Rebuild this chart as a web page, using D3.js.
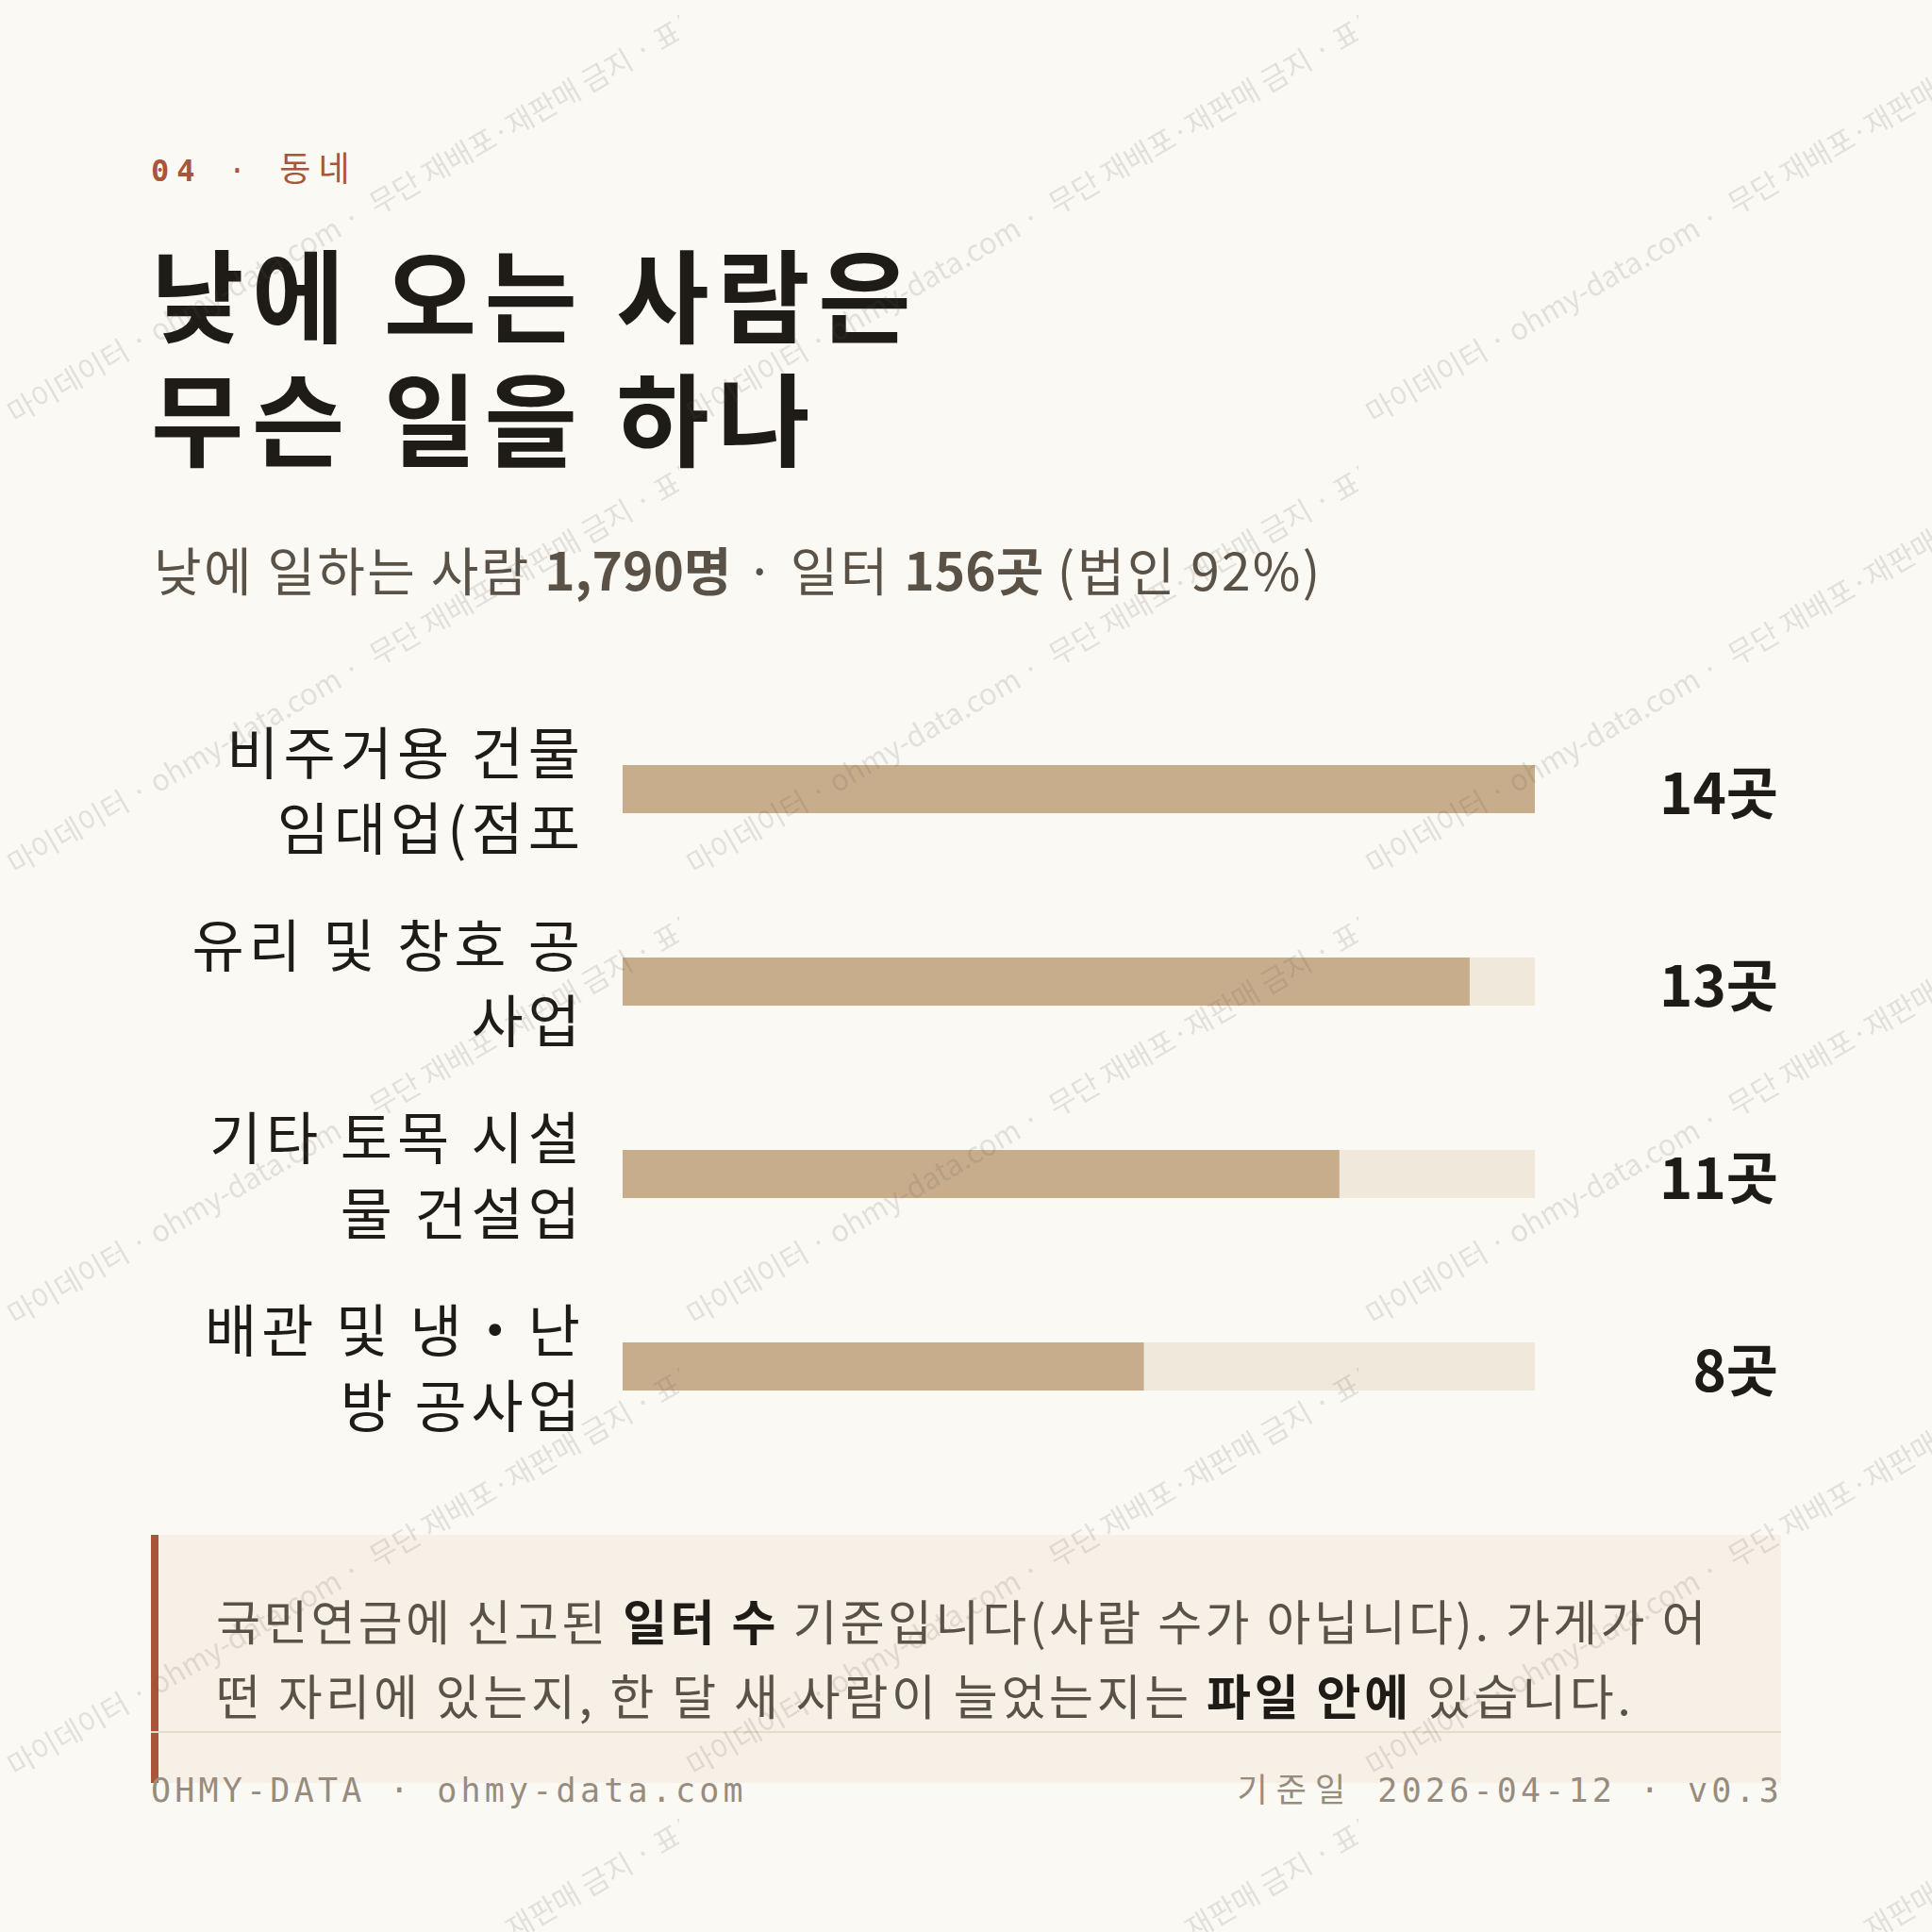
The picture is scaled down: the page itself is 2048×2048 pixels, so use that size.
<!DOCTYPE html>
<html><head><meta charset="utf-8">
<script src="https://cdn.jsdelivr.net/npm/d3@7"></script>
<style>html,body{margin:0;padding:0;background:#fbf9f4;} svg{display:block}</style>
</head><body>
<svg id="chart" width="2048" height="2048"></svg>
<script>
// ---- data ----
const kickerNum = "04";
const kickerText = "동네";
const titleLines = ["낮에 오는 사람은", "무슨 일을 하나"];
const subtitleParts = [
  {t: "낮에 일하는 사람 ", b: false},
  {t: "1,790명", b: true},
  {t: " · 일터 ", b: false},
  {t: "156곳", b: true},
  {t: " (법인 92%)", b: false}
];
const categories = ["비주거용 건물 임대업(점포", "유리 및 창호 공사업", "기타 토목 시설물 건설업", "배관 및 냉・난방 공사업"];
const values = [14, 13, 11, 8];
const valueUnit = "곳";
const noteLines = [
  [{t: "국민연금에 신고된 ", b: false}, {t: "일터 수", b: true}, {t: " 기준입니다(사람 수가 아닙니다). 가게가 어", b: false}],
  [{t: "떤 자리에 있는지, 한 달 새 사람이 늘었는지는 ", b: false}, {t: "파일 안에", b: true}, {t: " 있습니다.", b: false}]
];
const footerLeft = "OHMY-DATA · ohmy-data.com";
const footerRight = ["기준일", " 2026-04-12 · v0.3"];
const watermarkLeft = "금지 · 마이데이터 · ohmy-data.com ·";
const watermarkRight = "무단 재배포·재판매 금지 · 표본 데이터";

// ---- style ----
const W = 2048, H = 2048;
const SANS = "'Noto Sans CJK KR', 'Noto Sans', sans-serif";
const MONO = "'DejaVu Sans Mono', 'Liberation Mono', 'Noto Sans CJK KR', monospace";
const C = {
  bg: "#fbf9f4", ink: "#1f1b16", sub: "#5a5247", rust: "#a8553a",
  bar: "#c8ad8c", track: "#f1e8dc", note: "#f7f0e6", rule: "#e3dbcc", foot: "#978c7e"
};

const svg = d3.select("#chart");
svg.append("rect").attr("width", W).attr("height", H).attr("fill", C.bg);

// kicker
const k = svg.append("text").attr("x", 160).attr("y", 192)
  .attr("font-family", MONO).attr("font-size", 32).attr("letter-spacing", 8).attr("fill", C.rust);
k.append("tspan").attr("font-weight", 700).text(kickerNum);
k.append("tspan").text(" · ");
k.append("tspan").attr("font-family", SANS).attr("font-size", 36).text(kickerText);

// title
svg.append("g").selectAll("text").data(titleLines).join("text")
  .attr("x", 160).attr("y", (d, i) => 355 + i * 131)
  .attr("font-family", SANS).attr("font-weight", 700).attr("font-size", 107)
  .attr("letter-spacing", 8.5).attr("fill", C.ink).text(d => d);

// subtitle
const st = svg.append("text").attr("x", 163).attr("y", 626)
  .attr("font-family", SANS).attr("font-size", 55).attr("letter-spacing", 2).attr("fill", C.sub);
st.selectAll("tspan").data(subtitleParts).join("tspan")
  .attr("font-weight", d => d.b ? 700 : 400)
  .attr("letter-spacing", d => d.b ? 0 : 2.3).text(d => d.t);

// ---- bars ----
const x = d3.scaleLinear().domain([0, d3.max(values)]).range([660, 1627]);
const y = d3.scaleBand().domain(categories).range([734.5, 1550.5]).paddingInner(0.75).paddingOuter(0.375);
const rows = categories.map((c, i) => ({c, v: values[i]}));

const g = svg.append("g");
g.selectAll("rect.track").data(rows).join("rect").attr("class", "track")
  .attr("x", x(0)).attr("y", d => y(d.c)).attr("width", x.range()[1] - x(0))
  .attr("height", y.bandwidth()).attr("fill", C.track);
g.selectAll("rect.bar").data(rows).join("rect").attr("class", "bar")
  .attr("x", x(0)).attr("y", d => y(d.c)).attr("width", d => x(d.v) - x(0))
  .attr("height", y.bandwidth()).attr("fill", C.bar);

g.selectAll("text.val").data(rows).join("text").attr("class", "val")
  .attr("x", 1885).attr("y", d => y(d.c) + y.bandwidth() / 2 + 26)
  .attr("text-anchor", "end").attr("font-family", SANS).attr("font-weight", 700)
  .attr("font-size", 60).attr("fill", C.ink).text(d => d.v + valueUnit);

// category labels with character wrap
const labelMax = 430, labelLS = 5;
const measure = svg.append("text").attr("font-family", SANS).attr("font-size", 60)
  .attr("letter-spacing", labelLS).attr("visibility", "hidden");
function wrapChars(str) {
  const lines = []; let cur = "";
  for (const ch of Array.from(str)) {
    measure.text(cur + ch);
    if (measure.node().getComputedTextLength() > labelMax && cur.length) {
      lines.push(cur.trim()); cur = ch;
    } else cur += ch;
  }
  if (cur.trim().length) lines.push(cur.trim());
  return lines.slice(0, 2);
}
rows.forEach(r => {
  const lines = wrapChars(r.c);
  const cy = y(r.c) + y.bandwidth() / 2;
  const t = g.append("text").attr("text-anchor", "end").attr("font-family", SANS)
    .attr("font-size", 60).attr("letter-spacing", labelLS).attr("fill", C.ink);
  lines.forEach((ln, i) => {
    t.append("tspan").attr("x", 620).attr("y", cy - 15.5 - (lines.length - 2) * 40 + i * 80).text(ln);
  });
});
measure.remove();

// ---- note box ----
svg.append("rect").attr("x", 160).attr("y", 1627).attr("width", 1728).attr("height", 263).attr("fill", C.note);
svg.append("rect").attr("x", 160).attr("y", 1627).attr("width", 8).attr("height", 263).attr("fill", C.rust);
const noteLS = [3.3, 3.7];
noteLines.forEach((segs, i) => {
  const t = svg.append("text").attr("x", 229).attr("y", 1739 + i * 79)
    .attr("font-family", SANS).attr("font-size", 51).attr("letter-spacing", noteLS[i]).attr("fill", C.sub);
  t.selectAll("tspan").data(segs).join("tspan")
    .attr("font-weight", d => d.b ? 700 : 400).attr("fill", d => d.b ? C.ink : C.sub).text(d => d.t);
});

// ---- footer ----
svg.append("line").attr("x1", 160).attr("x2", 1888).attr("y1", 1836).attr("y2", 1836)
  .attr("stroke", C.rule).attr("stroke-width", 2);
svg.append("text").attr("x", 160).attr("y", 1910).attr("font-family", MONO).attr("font-size", 35)
  .attr("letter-spacing", 4.2).attr("fill", C.foot).text(footerLeft);
const fr = svg.append("text").attr("x", 1890).attr("y", 1910).attr("text-anchor", "end")
  .attr("font-family", MONO).attr("font-size", 35).attr("letter-spacing", 4.2).attr("fill", C.foot);
fr.append("tspan").attr("font-family", SANS).attr("letter-spacing", 9).text(footerRight[0]);
fr.append("tspan").text(footerRight[1]);

// ---- watermark ----
const defs = svg.append("defs");
const pat = defs.append("pattern").attr("id", "wm").attr("patternUnits", "userSpaceOnUse")
  .attr("width", 720).attr("height", 478);
const wg = pat.append("g").attr("transform", "rotate(-30,360,240)")
  .attr("font-family", SANS).attr("font-size", 31).attr("fill", "rgba(90,80,70,0.15)");
wg.append("text").attr("x", 384).attr("y", 250).attr("text-anchor", "end").text(watermarkLeft);
wg.append("text").attr("x", 400).attr("y", 250).attr("text-anchor", "start").text(watermarkRight);
svg.append("rect").attr("width", W).attr("height", H).attr("fill", "url(#wm)").attr("pointer-events", "none");
</script>
</body></html>
